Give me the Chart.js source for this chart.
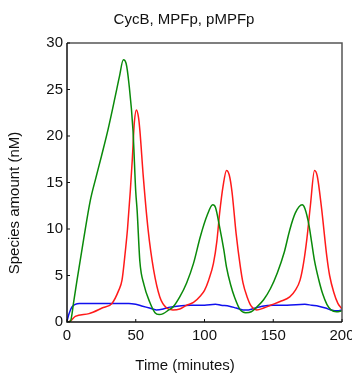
<!DOCTYPE html>
<html>
<head>
<meta charset="utf-8">
<script src="https://cdn.jsdelivr.net/npm/chart.js@4.4.1/dist/chart.umd.min.js"></script>
<style>
  html, body { margin: 0; padding: 0; background: #fff; }
  #wrap { width: 352px; height: 375px; }
</style>
</head>
<body>
<div id="wrap"><canvas id="cycChart" width="352" height="375"></canvas></div>
<script>
// series (time in minutes, amount in nM)
const greenTime = [0, 2.5, 5, 7.3, 12, 17, 21, 25, 30, 35, 38, 41, 43, 45, 48, 50, 51, 53, 56, 60, 64, 67, 70, 74, 77, 82, 87, 92, 97, 102, 106, 108, 111, 114, 116, 119, 122, 126, 130, 134, 138, 143, 148, 153, 158, 162, 166, 171, 173, 176, 178, 180, 183, 186, 189, 192, 196, 200];
const greenValues = [0, 0.1, 2.3, 4.5, 8.8, 13.1, 15.5, 17.8, 20.8, 24.2, 26.3, 28.2, 27.8, 25.7, 20.6, 14, 12, 6.5, 4, 2.2, 1.0, 0.8, 0.9, 1.3, 1.6, 2.7, 4.2, 6.3, 9.2, 11.5, 12.6, 12.3, 10.2, 7.8, 5.9, 4.0, 2.6, 1.3, 1.0, 1.1, 1.6, 2.4, 3.6, 5.3, 7.5, 9.9, 11.7, 12.6, 12.2, 10.4, 8.5, 6.6, 4.6, 3.0, 1.9, 1.3, 1.1, 1.2];

const redTime = [0, 2.5, 6, 16, 25.5, 32.7, 37.6, 40, 42, 44, 46, 47.5, 49, 50.5, 52, 53, 55.5, 59, 63, 67.5, 72.5, 77, 82, 87, 92, 97, 100, 103, 106.5, 109, 111, 113.5, 116, 118, 120, 123, 126, 128, 131, 134, 138, 143, 148, 155, 162, 166, 169.5, 172, 174.5, 177, 180, 182, 185, 189, 191, 194, 197, 200];
const redValues = [0, 0.1, 0.6, 0.9, 1.5, 2.0, 3.4, 4.5, 7, 10, 14, 17.5, 21.5, 22.8, 22, 20.6, 15.6, 9.9, 5.6, 2.7, 1.5, 1.3, 1.4, 1.8, 2.1, 2.8, 3.4, 4.5, 6.3, 8.7, 11.7, 14.6, 16.3, 15.8, 14, 9.5, 6, 4.2, 2.7, 1.7, 1.3, 1.5, 1.8, 2.2, 2.7, 3.4, 4.5, 6.3, 9, 12.5, 16.3, 15.7, 12.4, 7, 5, 3.2, 2, 1.4];

const blueTime = [0, 1.5, 3.5, 6, 9, 20, 35, 45, 50, 55, 60, 65, 70, 75, 80, 90, 100, 108, 112, 118, 123, 128, 132, 137, 142, 150, 160, 173, 178, 183, 188, 192, 197, 200];
const blueValues = [0.1, 0.9, 1.6, 1.9, 2.0, 2.0, 2.0, 2.0, 1.9, 1.7, 1.5, 1.3, 1.4, 1.6, 1.7, 1.8, 1.8, 1.9, 1.8, 1.7, 1.5, 1.3, 1.3, 1.5, 1.7, 1.8, 1.8, 1.9, 1.8, 1.7, 1.5, 1.3, 1.2, 1.3];

const xTicks = [0, 50, 100, 150, 200];
const yTicks = [0, 5, 10, 15, 20, 25, 30];

const chartTitle = "CycB, MPFp, pMPFp";
const xTitle = "Time (minutes)";
const yTitle = "Species amount (nM)";

const FONT = "'Liberation Sans', Arial, sans-serif";

function pts(ts, vs) {
  return ts.map((t, i) => ({ x: t, y: vs[i] }));
}

// box frame, inward ticks and axis titles
const framePlugin = {
  id: "frame",
  afterDatasetsDraw(chart) {
    const { ctx, chartArea: a, scales } = chart;
    ctx.save();
    ctx.strokeStyle = "#555";
    ctx.lineWidth = 1.5;
    ctx.beginPath();
    ctx.moveTo(a.left, a.top);
    ctx.lineTo(a.right, a.top);
    ctx.lineTo(a.right, a.bottom);
    ctx.stroke();
    ctx.strokeStyle = "#111";
    ctx.beginPath();
    ctx.moveTo(a.left, a.top);
    ctx.lineTo(a.left, a.bottom);
    ctx.lineTo(a.right, a.bottom);
    ctx.stroke();
    ctx.lineWidth = 1;
    xTicks.forEach((v) => {
      const px = scales.x.getPixelForValue(v);
      ctx.beginPath();
      ctx.moveTo(px, a.bottom);
      ctx.lineTo(px, a.bottom - 3);
      ctx.stroke();
    });
    yTicks.forEach((v) => {
      const py = scales.y.getPixelForValue(v);
      ctx.beginPath();
      ctx.moveTo(a.left, py);
      ctx.lineTo(a.left + 3, py);
      ctx.stroke();
    });
    ctx.fillStyle = "#111";
    ctx.font = "15px " + FONT;
    ctx.textAlign = "center";
    ctx.textBaseline = "middle";
    ctx.fillText(xTitle, 185, 366);
    ctx.translate(15, 203);
    ctx.rotate(-Math.PI / 2);
    ctx.fillText(yTitle, 0, 0);
    ctx.restore();
  },
};

new Chart(document.getElementById("cycChart").getContext("2d"), {
  type: "line",
  data: {
    datasets: [
      {
        label: "green",
        data: pts(greenTime, greenValues),
        borderColor: "#0a8a0a",
        borderWidth: 1.5,
        pointRadius: 0,
        cubicInterpolationMode: "monotone",
        fill: false,
      },
      {
        label: "red",
        data: pts(redTime, redValues),
        borderColor: "#ff1a1a",
        borderWidth: 1.5,
        pointRadius: 0,
        cubicInterpolationMode: "monotone",
        fill: false,
      },
      {
        label: "blue",
        data: pts(blueTime, blueValues),
        borderColor: "#1010ee",
        borderWidth: 1.5,
        pointRadius: 0,
        cubicInterpolationMode: "monotone",
        fill: false,
      },
    ],
  },
  options: {
    responsive: false,
    animation: false,
    layout: { padding: { left: 26, right: 10, top: 0, bottom: 0 } },
    plugins: {
      legend: { display: false },
      tooltip: { enabled: false },
      title: {
        display: true,
        text: chartTitle,
        color: "#111",
        font: { family: FONT, size: 15, weight: "normal" },
        padding: { top: 11, bottom: 14 },
      },
    },
    scales: {
      x: {
        type: "linear",
        min: 0,
        max: 200,
        grid: { display: false, drawTicks: false },
        border: { display: false },
        ticks: {
          stepSize: 50,
          padding: 5,
          color: "#111",
          maxRotation: 0,
          font: { family: FONT, size: 15 },
        },
        afterFit(scale) {
          scale.height = 53;
          scale.paddingLeft = 0;
          scale.paddingRight = 0;
        },
      },
      y: {
        min: 0,
        max: 30,
        grid: { display: false, drawTicks: false },
        border: { display: false },
        ticks: {
          stepSize: 5,
          padding: 4,
          color: "#111",
          font: { family: FONT, size: 15 },
        },
        afterFit(scale) {
          scale.width = 41;
          scale.paddingTop = 0;
          scale.paddingBottom = 0;
        },
      },
    },
  },
  plugins: [framePlugin],
});
</script>
</body>
</html>
